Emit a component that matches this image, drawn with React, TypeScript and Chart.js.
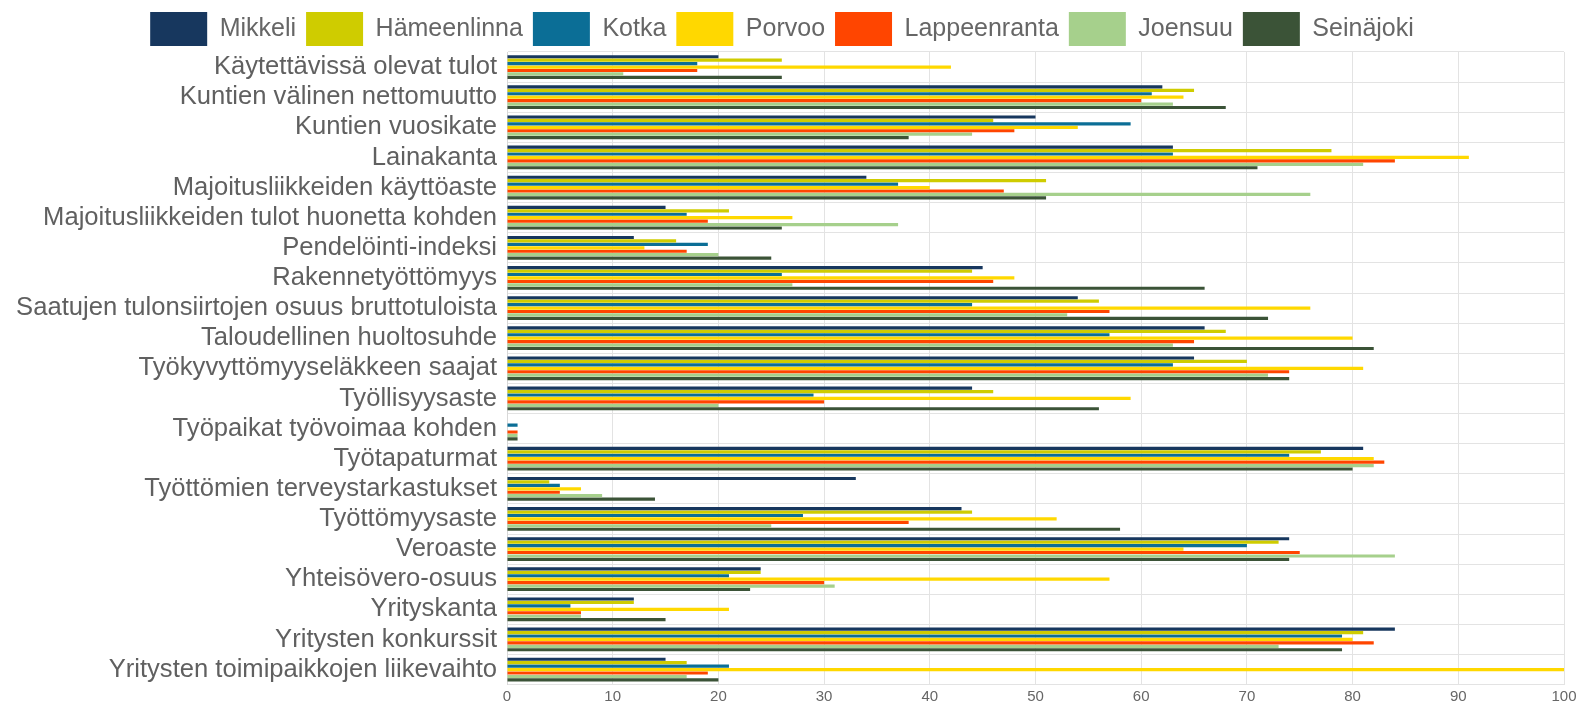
import React, { useEffect, useRef } from "react";
import { Chart, registerables } from "chart.js";

Chart.register(...registerables);

const categories = [
  "Käytettävissä olevat tulot",
  "Kuntien välinen nettomuutto",
  "Kuntien vuosikate",
  "Lainakanta",
  "Majoitusliikkeiden käyttöaste",
  "Majoitusliikkeiden tulot huonetta kohden",
  "Pendelöinti-indeksi",
  "Rakennetyöttömyys",
  "Saatujen tulonsiirtojen osuus bruttotuloista",
  "Taloudellinen huoltosuhde",
  "Työkyvyttömyyseläkkeen saajat",
  "Työllisyysaste",
  "Työpaikat työvoimaa kohden",
  "Työtapaturmat",
  "Työttömien terveystarkastukset",
  "Työttömyysaste",
  "Veroaste",
  "Yhteisövero-osuus",
  "Yrityskanta",
  "Yritysten konkurssit",
  "Yritysten toimipaikkojen liikevaihto",
];

const seriesNames = ["Mikkeli", "Hämeenlinna", "Kotka", "Porvoo", "Lappeenranta", "Joensuu", "Seinäjoki"];
const seriesColors = ["#17375E", "#CFCC00", "#0B6E96", "#FFD800", "#FF4500", "#A6D08C", "#3B5337"];

const mikkeli = [20, 62, 50, 63, 34, 15, 12, 45, 54, 66, 65, 44, 0, 81, 33, 43, 74, 24, 12, 84, 15];
const hameenlinna = [26, 65, 46, 78, 51, 21, 16, 44, 56, 68, 70, 46, 0, 77, 4, 44, 73, 24, 12, 81, 17];
const kotka = [18, 61, 59, 63, 37, 17, 19, 26, 44, 57, 63, 29, 1, 74, 5, 28, 70, 21, 6, 79, 21];
const porvoo = [42, 64, 54, 91, 40, 27, 13, 48, 76, 80, 81, 59, 0, 82, 7, 52, 64, 57, 21, 80, 100];
const lappeenranta = [18, 60, 48, 84, 47, 19, 17, 46, 57, 65, 74, 30, 1, 83, 5, 38, 75, 30, 7, 82, 19];
const joensuu = [11, 63, 44, 81, 76, 37, 20, 27, 53, 63, 72, 20, 1, 82, 9, 25, 84, 31, 7, 73, 17];
const seinajoki = [26, 68, 38, 71, 51, 26, 25, 66, 72, 82, 74, 56, 1, 80, 14, 58, 74, 23, 15, 79, 20];

const seriesValues = [mikkeli, hameenlinna, kotka, porvoo, lappeenranta, joensuu, seinajoki];
const xTicks = [0, 10, 20, 30, 40, 50, 60, 70, 80, 90, 100];

const legendTrim = {
  id: "legendTrim",
  beforeInit(chart: any) {
    const lg = chart.legend;
    if (lg && !lg.__patched) {
      const orig = lg.fit.bind(lg);
      lg.fit = function () {
        orig();
        this.height = this.height - 4;
      };
      lg.__patched = true;
    }
  },
};

export default function App() {
  const ref = useRef<HTMLCanvasElement | null>(null);

  useEffect(() => {
    document.body.style.margin = "0";
    if (!ref.current) return;
    const chart = new Chart(ref.current, {
      type: "bar",
      data: {
        labels: categories,
        datasets: seriesNames.map((name, i) => ({
          label: name,
          data: seriesValues[i],
          backgroundColor: seriesColors[i],
          borderWidth: 0,
          categoryPercentage: 0.8,
          barPercentage: 0.92,
        })),
      },
      options: {
        indexAxis: "y",
        animation: false,
        responsive: false,
        maintainAspectRatio: false,
        layout: { padding: { top: 2, right: 16, bottom: 0, left: 0 } },
        plugins: {
          legend: {
            position: "top",
            labels: {
              boxWidth: 57,
              boxHeight: 34,
              padding: 10,
              color: "#666666",
              font: { family: "'Liberation Sans', Arial, sans-serif", size: 25 },
            },
          },
          tooltip: { enabled: false },
        },
        scales: {
          x: {
            min: 0,
            max: 100,
            afterBuildTicks: (scale: any) => {
              scale.ticks = xTicks.map((v) => ({ value: v }));
            },
            grid: { color: "#e3e3e3", drawTicks: false },
            border: { color: "#e3e3e3" },
            ticks: {
              padding: 3,
              color: "#666666",
              font: { family: "'Liberation Sans', Arial, sans-serif", size: 15 },
            },
          },
          y: {
            afterFit: (scale: any) => {
              scale.width = 507;
            },
            grid: { color: "#e3e3e3", drawTicks: false },
            border: { color: "#d8d8d8" },
            ticks: {
              padding: 10,
              autoSkip: false,
              color: "#606060",
              font: { family: "'Liberation Sans', Arial, sans-serif", size: 25.6 },
            },
          },
        },
      },
      plugins: [legendTrim],
    } as any);
    return () => chart.destroy();
  }, []);

  return (
    <div style={{ width: 1580, height: 710 }}>
      <canvas ref={ref} width={1580} height={710} style={{ width: 1580, height: 710, display: "block" }} />
    </div>
  );
}
